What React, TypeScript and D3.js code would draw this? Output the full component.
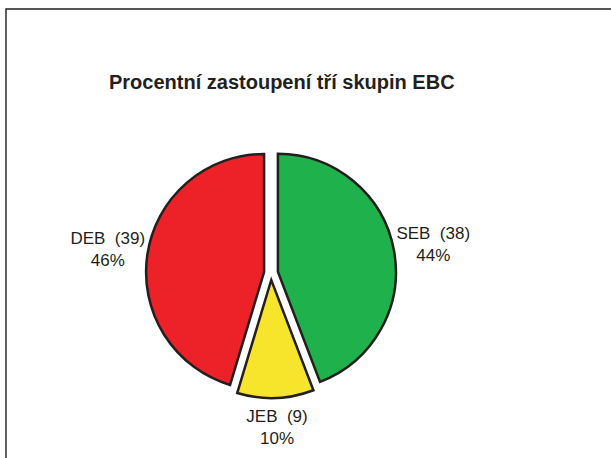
import * as d3 from "d3";
import React from "react";

// ── Data ─────────────────────────────────────────────────────────────────────
const GROUPS = ["SEB", "JEB", "DEB"];
const COUNTS = [38, 9, 39];
const PERCENT_LABELS = ["44%", "10%", "46%"];
const COLORS = ["#1fb14c", "#f6e52a", "#ed2229"];

const TITLE = "Procentní zastoupení tří skupin EBC";

// ── Layout ───────────────────────────────────────────────────────────────────
const W = 611;
const H = 458;
const CX = 271;
const CY = 273;
const R = 118;
const EXPLODE = 7;
const LABEL_RX = 165;
const LABEL_RY = 155;
const STROKE = "#231f20";
const FONT = "'Liberation Sans', Arial, Helvetica, sans-serif";

export default function App() {
  const pie = d3
    .pie<number>()
    .sort(null)
    .value((d) => d)
    .startAngle(0)
    .endAngle(2 * Math.PI);

  const arcs = pie(COUNTS);
  const arc = d3.arc<d3.PieArcDatum<number>>().innerRadius(0).outerRadius(R);

  return (
    <svg
      width={W}
      height={H}
      viewBox={`0 0 ${W} ${H}`}
      style={{ position: "absolute", left: 0, top: 0, background: "#fff" }}
    >
      {/* frame (top + left only) */}
      <path d={`M6,${H} L6,9 L${W},9`} fill="none" stroke={STROKE} strokeWidth={1.4} />

      <text x={109} y={89} fontFamily={FONT} fontWeight="bold" fontSize={20} fill="#231f20">
        {TITLE}
      </text>

      <g transform={`translate(${CX},${CY})`}>
        {arcs.map((a, i) => {
          const mid = (a.startAngle + a.endAngle) / 2;
          const dx = Math.sin(mid) * EXPLODE;
          const dy = -Math.cos(mid) * EXPLODE;
          return (
            <path
              key={GROUPS[i]}
              d={arc(a) ?? ""}
              transform={`translate(${dx},${dy})`}
              fill={COLORS[i]}
              stroke={STROKE}
              strokeWidth={2.5}
              strokeLinejoin="miter"
            />
          );
        })}

        {arcs.map((a, i) => {
          const mid = (a.startAngle + a.endAngle) / 2;
          const lx = Math.sin(mid) * LABEL_RX;
          const ly = -Math.cos(mid) * LABEL_RY;
          return (
            <text
              key={"l" + GROUPS[i]}
              x={lx}
              y={ly}
              textAnchor="middle"
              fontFamily={FONT}
              fontSize={17}
              fill="#231f20"
              style={{ whiteSpace: "pre" }}
            >
              <tspan x={lx} dy={-6}>{`${GROUPS[i]}  (${COUNTS[i]})`}</tspan>
              <tspan x={lx} dy={22}>{PERCENT_LABELS[i]}</tspan>
            </text>
          );
        })}
      </g>
    </svg>
  );
}
